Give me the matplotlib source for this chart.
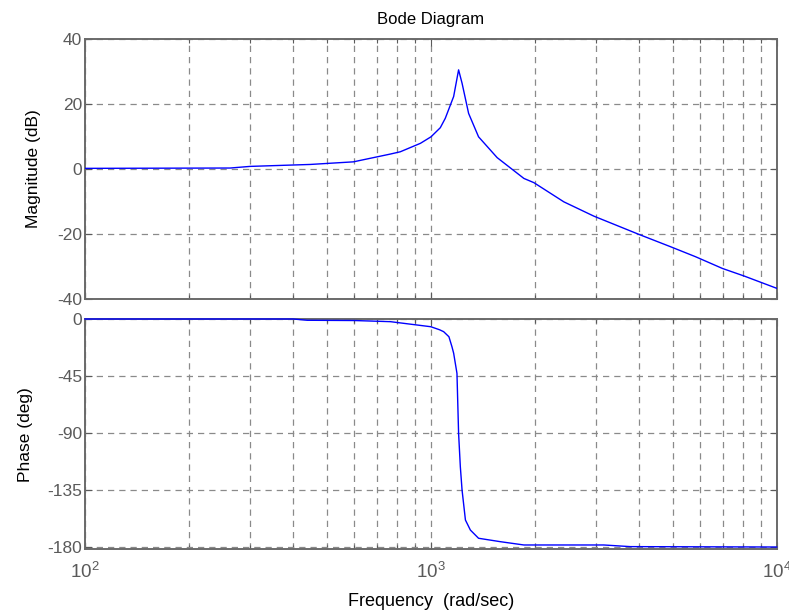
import matplotlib
matplotlib.use("Agg")
import matplotlib.pyplot as plt
from matplotlib.ticker import LogLocator, NullFormatter, FixedLocator

plt.rcParams['font.family'] = ['Liberation Sans', 'DejaVu Sans']
plt.rcParams['axes.unicode_minus'] = False

# Magnitude response samples (rad/sec, dB)
mag_freq = [100, 263, 300, 448, 597, 764, 816, 933, 1001, 1065, 1101, 1164,
            1203, 1231, 1286, 1374, 1555, 1858, 1986, 2424, 2960, 3993, 4930,
            5830, 6970, 8040, 10000]
mag_db = [0.2, 0.3, 0.8, 1.4, 2.2, 4.6, 5.3, 7.9, 9.9, 12.7, 15.6, 22.3,
          30.5, 26.4, 17.1, 9.9, 3.5, -2.9, -4.2, -10.1, -14.5, -20.1, -23.9,
          -27.0, -30.6, -32.9, -36.7]

# Phase response samples (rad/sec, deg)
ph_freq = [100, 400, 439, 600, 764, 1000, 1060, 1089, 1128, 1151, 1164, 1190,
           1203, 1217, 1231, 1259, 1301, 1374, 1589, 1858, 3162, 3775, 10000]
ph_deg = [0.0, 0.0, -1.0, -1.2, -2.1, -6.1, -8.5, -10.0, -14.0, -21.9, -27.0,
          -42.9, -90.3, -116.6, -135.0, -158.7, -166.6, -173.1, -175.8,
          -178.4, -178.4, -179.7, -180.0]

mag_ticks = [-40, -20, 0, 20, 40]
ph_ticks = [-180, -135, -90, -45, 0]

tick_color = '#5a5a5a'
spine_color = '#6a6a6a'
grid_color = '#8a8a8a'

fig = plt.figure(figsize=(7.89, 6.11), dpi=100)
ax1 = fig.add_axes([0.1077, 0.5106, 0.8767, 0.4256])
ax2 = fig.add_axes([0.1077, 0.1010, 0.8767, 0.3769])


def style(ax):
    ax.set_xscale('log')
    ax.set_xlim(100, 10000)
    ax.xaxis.set_major_locator(LogLocator(base=10, numticks=10))
    ax.xaxis.set_minor_locator(LogLocator(base=10, subs=range(2, 10), numticks=20))
    ax.xaxis.set_minor_formatter(NullFormatter())
    ax.grid(True, which='both', axis='x', color=grid_color,
            linestyle=(0, (5, 4)), linewidth=0.9)
    ax.grid(True, which='major', axis='y', color=grid_color,
            linestyle=(0, (5, 4)), linewidth=0.9)
    ax.tick_params(which='both', direction='in', top=True, right=True,
                   colors=tick_color, labelcolor=tick_color, labelsize=12.5)
    ax.tick_params(which='major', length=5, width=0.8)
    ax.tick_params(which='minor', length=3, width=0.8)
    ax.tick_params(axis='y', pad=2)
    for s in ax.spines.values():
        s.set_color(spine_color)
        s.set_linewidth(1.4)
    ax.set_axisbelow(True)


style(ax1)
style(ax2)

ax1.plot(mag_freq, mag_db, color='#0000ff', linewidth=1.0, zorder=3)
ax1.set_ylim(-40, 40)
ax1.yaxis.set_major_locator(FixedLocator(mag_ticks))
ax1.xaxis.set_major_formatter(NullFormatter())
ax1.set_ylabel('Magnitude (dB)', fontsize=12.5, color='black', labelpad=12)
ax1.set_title('Bode Diagram', fontsize=12, color='black', pad=11)

ax2.plot(ph_freq, ph_deg, color='#0000ff', linewidth=1.0, zorder=3,
         clip_on=False)
ax2.set_ylim(-181.8, 0)
ax2.yaxis.set_major_locator(FixedLocator(ph_ticks))
ax2.set_ylabel('Phase (deg)', fontsize=12.5, color='black', labelpad=10)
ax2.set_xlabel('Frequency  (rad/sec)', fontsize=13, color='black', labelpad=8)
ax2.tick_params(axis='x', which='major', pad=9, labelsize=13.5)

fig.savefig('out.png', dpi=100)
